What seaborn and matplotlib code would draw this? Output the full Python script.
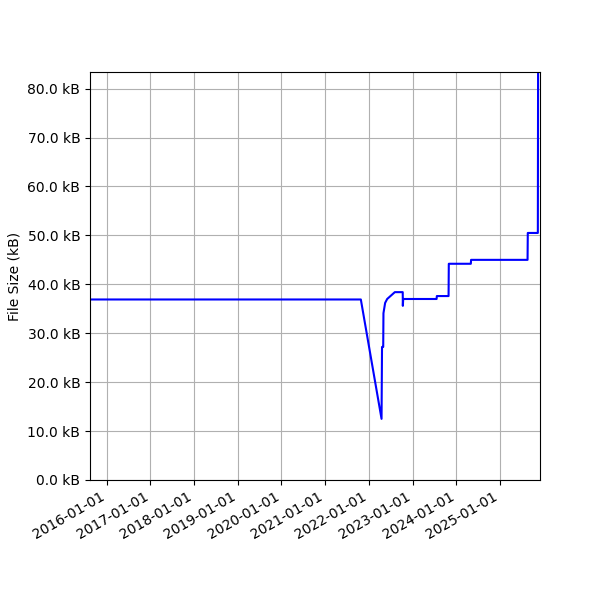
import matplotlib
matplotlib.use("Agg")
import matplotlib.pyplot as plt
import matplotlib.dates as mdates
import matplotlib.ticker as mticker
import seaborn as sns
import pandas as pd

dates = [
    "2015-08-15", "2021-10-25", "2022-04-16", "2022-04-20", "2022-04-30",
    "2022-05-02", "2022-05-16", "2022-06-02", "2022-08-05", "2022-10-10",
    "2022-10-11", "2022-10-14", "2023-07-20", "2023-07-22", "2023-10-28",
    "2023-10-30", "2024-05-01", "2024-05-03", "2025-08-18", "2025-08-20",
    "2025-11-12", "2025-11-14", "2025-11-30",
]
sizes_kb = [
    36.9, 36.9, 12.5, 27.2, 27.2,
    34.1, 36.2, 37.0, 38.4, 38.4,
    35.6, 37.0, 37.0, 37.6, 37.6,
    44.2, 44.2, 45.0, 45.0, 50.5,
    50.5, 83.4, 83.4,
]

df = pd.DataFrame({"date": pd.to_datetime(dates), "size": sizes_kb})

fig, ax = plt.subplots(figsize=(6, 6), dpi=100)
sns.lineplot(data=df, x="date", y="size", ax=ax, color="blue", linewidth=1.5)

ax.set_xlim(df["date"].min(), df["date"].max())
ax.set_ylim(0, df["size"].max())
ax.xaxis.set_major_locator(mdates.YearLocator())
ax.xaxis.set_major_formatter(mdates.DateFormatter("%Y-%m-%d"))
ax.yaxis.set_major_locator(mticker.MultipleLocator(10))
ax.yaxis.set_major_formatter(mticker.FuncFormatter(lambda v, p: f"{v:.1f} kB"))
ax.set_xlabel("")
ax.set_ylabel("File Size (kB)")
ax.grid(True)
fig.autofmt_xdate()
fig.subplots_adjust(left=0.15, right=0.9, top=0.88, bottom=0.2)
fig.savefig("out.png", dpi=100)
